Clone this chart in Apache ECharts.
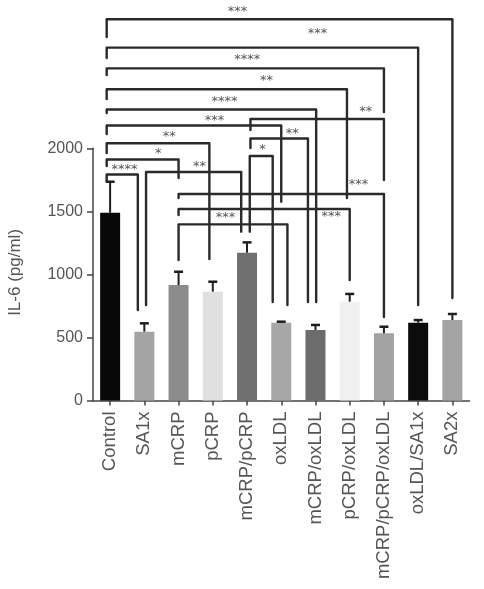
<!DOCTYPE html>
<html>
<head>
<meta charset="utf-8">
<script src="https://cdn.jsdelivr.net/npm/echarts@6/dist/echarts.min.js"></script>
<style>
html,body{margin:0;padding:0;background:#fff;}
#chart{width:484px;height:589px;}
</style>
</head>
<body>
<div id="chart"></div>
<script>
// ---- data ----
const categories = ['Control','SA1x','mCRP','pCRP','mCRP/pCRP','oxLDL','mCRP/oxLDL','pCRP/oxLDL','mCRP/pCRP/oxLDL','oxLDL/SA1x','SA2x'];
const meanValues = [1489, 546, 916, 863, 1172, 617, 559, 784, 533, 617, 638];
const sdValues   = [246, 66, 105, 79, 82, 8, 40, 61, 52, 21, 48];
const yTicks = [0, 500, 1000, 1500, 2000];
const yTitle = 'IL-6 (pg/ml)';

// significance comparisons
const sigFrom   = [0, 0, 0, 0, 0, 0, 4, 4, 0, 4, 0, 1, 0, 2, 2, 2];
const sigTo     = [10, 9, 8, 7, 6, 5, 8, 6, 3, 5, 2, 4, 1, 8, 7, 5];
const sigLabels = ['***','***','****','**','****','***','**','**','**','*','*','**','****','***','***','***'];

// ---- styles / layout of annotations ----
const barColors = ['#080808','#a4a4a4','#8c8c8c','#e0e0e0','#707070','#a7a7a7','#6c6c6c','#f0f0f0','#a2a2a2','#0c0c0c','#a4a4a4'];
// [lineLevel, leftEnd, rightEnd, leftOffset, rightOffset, labelPos, labelLevel]
const bracketLayout = [
  [3023, 2883, 813, -0.1, 0, 3.72, 3097],
  [2798, 2716, 757, -0.1, 0, 6.06, 2922],
  [2634, 2581, 2288, -0.1, 0, 4.01, 2716],
  [2468, 2391, 1606, -0.1, -0.08, 4.57, 2550],
  [2308, 2280, 781, -0.1, 0.02, 3.34, 2383],
  [2181, 2113, 1577, -0.1, 0, 3.05, 2232],
  [2232, 2145, 1749, 0.1, 0, 7.47, 2309],
  [2078, 2002, 781, 0.1, -0.22, 5.32, 2132],
  [2040, 1963, 1122, -0.1, -0.1, 1.73, 2109],
  [1939, 1339, 781, 0.08, -0.25, 4.45, 2005],
  [1911, 1860, 1764, -0.1, 0, 1.41, 1973],
  [1812, 757, 1339, 0.05, -0.17, 2.61, 1868],
  [1792, 1741, 718, -0.1, -0.19, 0.42, 1849],
  [1638, 1606, 662, 0, 0, 7.26, 1727],
  [1519, 1471, 956, 0, 0, 6.46, 1471],
  [1397, 1114, 757, 0, 0.18, 3.37, 1463]
];

const TXT = '#555555';
const AX = '#444444';
const chart = echarts.init(document.getElementById('chart'), null, {renderer:'canvas'});

const option = {
  backgroundColor: '#ffffff',
  animation: false,
  grid: {left: 93, right: 14.5, top: 148.3, bottom: 188.5, containLabel: false},
  xAxis: {
    type: 'category',
    data: categories,
    axisLine: {lineStyle: {color: AX, width: 1.5}},
    axisTick: {show: true, alignWithLabel: true, interval: 0, length: 5, lineStyle: {color: AX, width: 1.5}},
    axisLabel: {interval: 0, rotate: 90, margin: 11, color: TXT, fontSize: 18.5, fontFamily: 'Liberation Sans'}
  },
  yAxis: {
    type: 'value',
    min: yTicks[0], max: yTicks[yTicks.length - 1], interval: 500,
    axisLine: {show: true, lineStyle: {color: AX, width: 1.5}},
    axisTick: {show: true, length: 6, lineStyle: {color: AX, width: 1.5}},
    axisLabel: {margin: 10, color: TXT, fontSize: 16, fontFamily: 'Liberation Sans', formatter: function (v) { return String(v); }},
    splitLine: {show: false}
  },
  series: [
    {
      type: 'bar',
      barWidth: 20,
      data: meanValues.map((v, i) => ({value: v, itemStyle: {color: barColors[i]}})),
      z: 2
    },
    {
      type: 'custom',
      z: 3,
      clip: false,
      data: meanValues.map((v, i) => [i, v, v + sdValues[i]]),
      encode: {x: 0, y: [1, 2]},
      renderItem: function (params, api) {
        const i = api.value(0);
        const b = api.coord([i, api.value(1)]);
        const t = api.coord([i, api.value(2)]);
        return {
          type: 'group',
          children: [
            {type: 'line', shape: {x1: b[0], y1: b[1], x2: t[0], y2: t[1]}, style: {stroke: '#1e1e1e', lineWidth: 2}},
            {type: 'line', shape: {x1: t[0] - 4.5, y1: t[1], x2: t[0] + 4.5, y2: t[1]}, style: {stroke: '#1e1e1e', lineWidth: 2.5}}
          ]
        };
      }
    }
  ]
};
chart.setOption(option);

function P(idx, off, v) {
  const a = chart.convertToPixel({gridIndex: 0}, [idx, v]);
  const other = idx < categories.length - 1 ? idx + 1 : idx - 1;
  const b = chart.convertToPixel({gridIndex: 0}, [other, v]);
  const band = Math.abs(b[0] - a[0]);
  return [a[0] + off * band, a[1]];
}

const graphics = [];
sigFrom.forEach((f, k) => {
  const t = sigTo[k];
  const L = bracketLayout[k];
  const p1 = P(f, L[3], L[1]);
  const p2 = P(f, L[3], L[0]);
  const p3 = P(t, L[4], L[0]);
  const p4 = P(t, L[4], L[2]);
  graphics.push({
    type: 'polyline', silent: true, z: 10,
    shape: {points: [p1, p2, p3, p4]},
    style: {stroke: '#2a2a2a', lineWidth: 2.4, fill: null, lineJoin: 'round', lineCap: 'round'}
  });
  const li = Math.floor(L[5]);
  const lp = P(li, L[5] - li, L[6]);
  graphics.push({
    type: 'text', silent: true, z: 11,
    x: lp[0], y: lp[1] + 2,
    style: {text: sigLabels[k], fill: '#555', font: '13px "DejaVu Sans"', align: 'center', verticalAlign: 'middle'}
  });
});
const yTop = chart.convertToPixel({gridIndex: 0}, [0, yTicks[yTicks.length - 1]])[1];
const yBot = chart.convertToPixel({gridIndex: 0}, [0, yTicks[0]])[1];
graphics.push({
  type: 'text', silent: true, z: 11,
  x: 15, y: (yTop + yBot) / 2 - 2, rotation: Math.PI / 2,
  style: {text: yTitle, fill: TXT, font: '17px "Liberation Sans"', align: 'center', verticalAlign: 'middle'}
});
chart.setOption({graphic: graphics});
</script>
</body>
</html>
